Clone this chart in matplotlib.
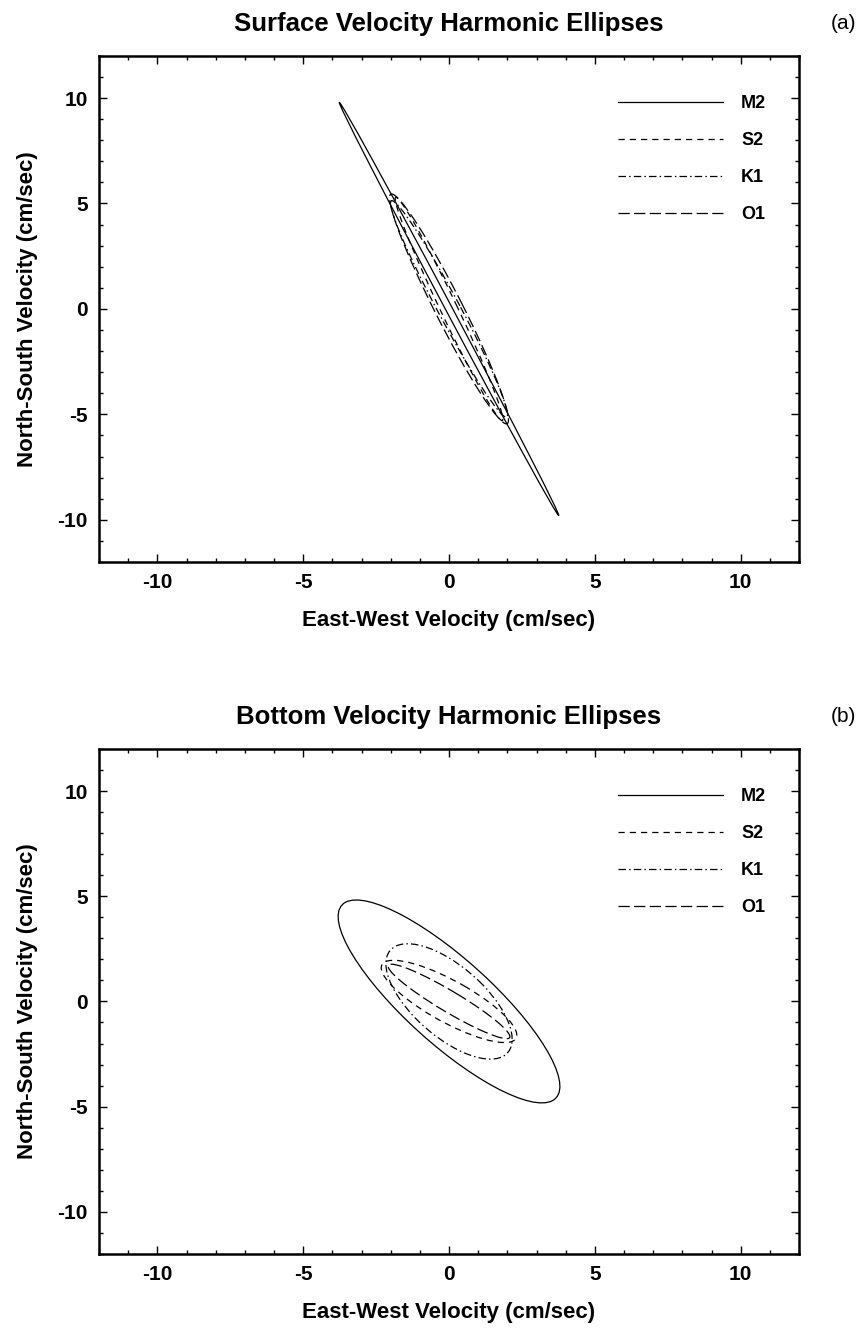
import matplotlib

matplotlib.use("Agg")
from matplotlib import pyplot as plt
from matplotlib.lines import Line2D
from matplotlib.patches import Ellipse
from matplotlib.ticker import MultipleLocator

plt.rcParams["font.family"] = ["Liberation Sans", "DejaVu Sans"]
plt.rcParams["axes.unicode_minus"] = False

# tidal constituents and ellipse parameters (cm/sec, degrees from east)
constituents = ["M2", "S2", "K1", "O1"]
surface_major = [10.5, 5.6, 5.5, 5.8]
surface_minor = [0.12, 0.3, 0.4, 0.5]
surface_incl = [111, 109, 111, 110]
bottom_major = [5.9, 2.9, 3.2, 2.7]
bottom_minor = [1.7, 0.9, 1.4, 0.45]
bottom_incl = [127, 141, 125, 140]

panel_titles = ["Surface Velocity Harmonic Ellipses", "Bottom Velocity Harmonic Ellipses"]
panel_tags = ["(a)", "(b)"]
tick_values = [-10, -5, 0, 5, 10]

line_styles = {
    "M2": "-",
    "S2": (0, (5, 4)),
    "K1": (0, (6, 2.5, 1.2, 2.5)),
    "O1": (0, (9, 3.5)),
}


def draw_panel(ax, major, minor, incl, title, tag):
    for name, a, b, ang in zip(constituents, major, minor, incl):
        ax.add_patch(Ellipse((0, 0), 2 * a, 2 * b, angle=ang, fill=False,
                             edgecolor="black", linewidth=0.9, linestyle=line_styles[name]))
    ax.set_xlim(-12, 12)
    ax.set_ylim(-12, 12)
    ax.set_xticks(tick_values)
    ax.set_yticks(tick_values)
    ax.xaxis.set_minor_locator(MultipleLocator(1))
    ax.yaxis.set_minor_locator(MultipleLocator(1))
    ax.tick_params(which="both", direction="in", top=True, right=True, width=1.0)
    ax.tick_params(which="major", length=6, labelsize=15, pad=8)
    ax.tick_params(which="minor", length=3)
    for lab in ax.get_xticklabels() + ax.get_yticklabels():
        lab.set_fontweight("bold")
    for spine in ax.spines.values():
        spine.set_linewidth(1.8)
    ax.set_xlabel("East-West Velocity (cm/sec)", fontsize=16, fontweight="bold", labelpad=13)
    ax.set_ylabel("North-South Velocity (cm/sec)", fontsize=16, fontweight="bold", labelpad=14)
    ax.set_title(title, fontsize=18.5, fontweight="bold", pad=18)
    ax.text(1.045, 1.065, tag, transform=ax.transAxes, fontsize=15, ha="left", va="center")

    handles = [Line2D([], [], color="black", linewidth=0.9, linestyle=line_styles[n]) for n in constituents]
    ax.legend(handles, constituents, loc="upper right", bbox_to_anchor=(0.953, 0.922),
              frameon=False, handlelength=5.8, handletextpad=1.0,
              labelspacing=1.1, borderpad=0, borderaxespad=0,
              prop={"weight": "bold", "size": 13})


fig = plt.figure(figsize=(8.67, 13.31), dpi=100)
ax_top = fig.add_axes([0.1142, 0.5778, 0.8074, 0.3802])
ax_bot = fig.add_axes([0.1142, 0.0579, 0.8074, 0.3794])

draw_panel(ax_top, surface_major, surface_minor, surface_incl, panel_titles[0], panel_tags[0])
draw_panel(ax_bot, bottom_major, bottom_minor, bottom_incl, panel_titles[1], panel_tags[1])

fig.savefig("out.png", dpi=100)
